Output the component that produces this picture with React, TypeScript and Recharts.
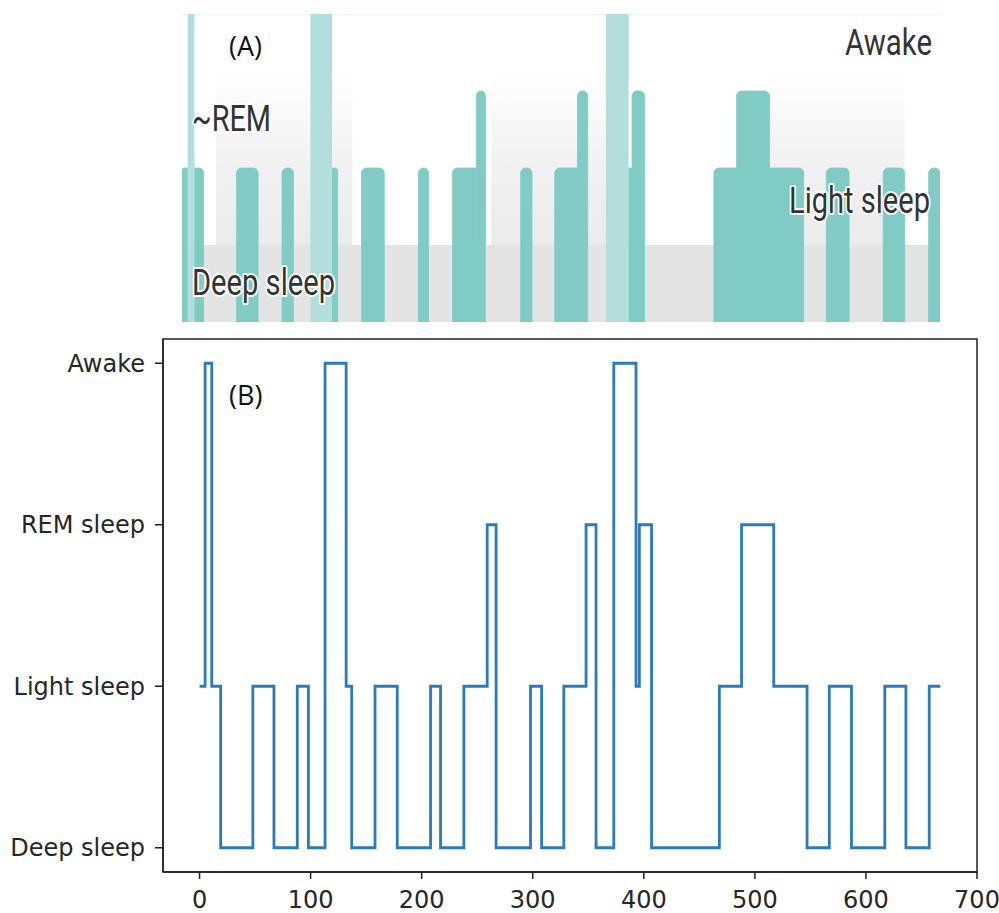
import React from 'react';
import {
  ComposedChart,
  Line,
  XAxis,
  YAxis,
  ReferenceArea,
  Rectangle,
} from 'recharts';

// ---- data ----
const stageLabels = ['Deep sleep', 'Light sleep', 'REM sleep', 'Awake'];
// segment start times (minutes) and stage index (0 deep, 1 light, 2 REM, 3 awake)
const segStart = [
  0, 5, 11, 19, 48, 67, 88, 98, 113, 132,
  137, 158, 178, 208, 217, 238, 259, 267, 298, 308,
  328, 348, 357, 373, 393, 396, 407, 468, 488, 517,
  547, 567, 587, 617, 636, 657,
];
const segStage = [
  1, 3, 1, 0, 1, 0, 1, 0, 3, 1,
  0, 1, 0, 1, 0, 1, 2, 0, 1, 0,
  1, 2, 0, 3, 1, 2, 0, 1, 2, 1,
  0, 1, 0, 1, 0, 1,
];
const recordEnd = 667;
const xTicks = [0, 100, 200, 300, 400, 500, 600, 700];
const yTicks = [0, 1, 2, 3];
const xDomain: [number, number] = [-32.9, 700];
const yDomain: [number, number] = [-0.15, 3.15];
// shaded "~REM" zones of the app screenshot (minutes)
const remZoneStart = [30, 272, 516];
const remZoneEnd = [150, 378, 636];

// ---- derived ----
const segments = segStart.map((s, i) => ({
  start: s,
  end: i + 1 < segStart.length ? segStart[i + 1] : recordEnd,
  stage: segStage[i],
}));
const linePoints = [
  ...segStart.map((s, i) => ({ t: s, stage: segStage[i] })),
  { t: recordEnd, stage: segStage[segStage.length - 1] },
];
// app levels: light 2, REM 3, awake 4 (deep band 0..1)
const appLevel = (st: number) => (st === 0 ? 0 : st + 1);

const TEAL = '#80cbc4';
const TEAL_LIGHT = '#b2dfdb';

const makeShape = (rl: number, rr: number) => (p: any) => (
  <Rectangle
    x={p.x}
    y={p.y}
    width={p.width}
    height={p.height}
    fill={p.fill}
    stroke={p.fill}
    strokeWidth={0.8}
    radius={[rl, rr, 0, 0]}
  />
);

const labelStyle: React.CSSProperties = {
  fontFamily: 'Roboto, "Noto Sans", sans-serif',
  fontSize: 36,
  fill: '#333333',
  stroke: '#ffffff',
  strokeWidth: 4,
  paintOrder: 'stroke',
  strokeLinejoin: 'round',
};

const panelLabelStyle: React.CSSProperties = {
  fontFamily: '"Open Sans", "Noto Sans", sans-serif',
  fontSize: 27,
  fill: '#111',
};

const tickFont = { fontFamily: '"DejaVu Sans", sans-serif', fontSize: 24, fill: '#262626' };

export default function App() {
  return (
    <div
      style={{
        position: 'absolute',
        left: 0,
        top: 0,
        width: 999,
        height: 913,
        background: '#ffffff',
        overflow: 'hidden',
      }}
    >
      {/* Panel A: app-style hypnogram */}
      <div style={{ position: 'absolute', left: 182, top: 14 }}>
        <ComposedChart
          width={758}
          height={308}
          data={linePoints}
          margin={{ top: 0, right: 0, bottom: 0, left: 0 }}
        >
          <defs>
            <linearGradient id="remZone" x1="0" y1="0" x2="0" y2="1">
              <stop offset="0%" stopColor="#ffffff" />
              <stop offset="55%" stopColor="#f1f1f1" />
              <stop offset="100%" stopColor="#ebebeb" />
            </linearGradient>
          </defs>
          <XAxis type="number" dataKey="t" domain={[0, recordEnd]} hide />
          <YAxis type="number" domain={[0, 4]} hide />
          <ReferenceArea
            x1={0}
            x2={recordEnd}
            y1={3.985}
            y2={4}
            fill="#e6f4f2"
            fillOpacity={1}
            stroke="none"
            ifOverflow="visible"
          />
          <ReferenceArea
            x1={0}
            x2={recordEnd}
            y1={0}
            y2={1}
            fill="#e4e4e4"
            fillOpacity={1}
            stroke="none"
          />
          {remZoneStart.map((s, i) => (
            <ReferenceArea
              key={'z' + i}
              x1={s}
              x2={remZoneEnd[i]}
              y1={1}
              y2={3.25}
              fill="url(#remZone)"
              fillOpacity={1}
              stroke="none"
            />
          ))}
          {segments.map((sg, i) => {
            if (sg.stage === 0 || sg.stage === 3) return null;
            const lv = appLevel(sg.stage);
            const prev = i > 0 ? appLevel(segments[i - 1].stage) : 0;
            const next = i + 1 < segments.length ? appLevel(segments[i + 1].stage) : 0;
            const rl = prev < lv ? 5 : 0;
            const rr = next < lv ? 5 : 0;
            return (
              <ReferenceArea
                key={'s' + i}
                x1={sg.start}
                x2={sg.end}
                y1={0}
                y2={lv}
                fill={TEAL}
                fillOpacity={1}
                stroke="none"
                shape={makeShape(rl, rr)}
              />
            );
          })}
          {segments.map((sg, i) =>
            sg.stage === 3 ? (
              <ReferenceArea
                key={'a' + i}
                x1={sg.start}
                x2={sg.end}
                y1={0}
                y2={4}
                fill={TEAL_LIGHT}
                fillOpacity={1}
                stroke="none"
              />
            ) : null
          )}
          <Line
            dataKey="stage"
            stroke="none"
            dot={false}
            isAnimationActive={false}
          />
        </ComposedChart>
      </div>

      {/* Panel B: matplotlib-style step plot */}
      <div style={{ position: 'absolute', left: 0, top: 330 }}>
        <ComposedChart
          width={999}
          height={583}
          data={linePoints}
          margin={{ top: 9, right: 22, bottom: 0, left: 0 }}
        >
          <XAxis
            type="number"
            dataKey="t"
            domain={xDomain}
            ticks={xTicks}
            interval={0}
            height={41}
            tickSize={7}
            tickMargin={12}
            axisLine={{ stroke: '#222', strokeWidth: 1.5 }}
            tickLine={{ stroke: '#222', strokeWidth: 1.5 }}
            tick={tickFont}
          />
          <YAxis
            type="number"
            domain={yDomain}
            ticks={yTicks}
            interval={0}
            width={163}
            tickSize={8}
            tickMargin={10}
            tickFormatter={(v: number) => stageLabels[v]}
            axisLine={{ stroke: '#222', strokeWidth: 1.5 }}
            tickLine={{ stroke: '#222', strokeWidth: 1.5 }}
            tick={tickFont}
          />
          <ReferenceArea
            x1={xDomain[0]}
            x2={xDomain[1]}
            y1={yDomain[0]}
            y2={yDomain[1]}
            fill="none"
            fillOpacity={0}
            stroke="#222"
            strokeWidth={1.5}
            strokeOpacity={1}
            ifOverflow="visible"
          />
          <Line
            type="stepAfter"
            dataKey="stage"
            stroke="#2b7bba"
            strokeWidth={2.8}
            dot={false}
            activeDot={false}
            isAnimationActive={false}
          />
        </ComposedChart>
      </div>

      {/* Text overlay */}
      <svg
        width={999}
        height={913}
        style={{ position: 'absolute', left: 0, top: 0, pointerEvents: 'none' }}
      >
        <text x={192} y={131} textLength={79} lengthAdjust="spacingAndGlyphs" style={labelStyle}>
          ~REM
        </text>
        <text x={845} y={55} textLength={87} lengthAdjust="spacingAndGlyphs" style={labelStyle}>
          Awake
        </text>
        <text x={789} y={213} textLength={141} lengthAdjust="spacingAndGlyphs" style={labelStyle}>
          Light sleep
        </text>
        <text x={192} y={295} textLength={143} lengthAdjust="spacingAndGlyphs" style={labelStyle}>
          Deep sleep
        </text>
        <text x={229} y={56} style={panelLabelStyle}>
          (A)
        </text>
        <text x={229} y={405} style={panelLabelStyle}>
          (B)
        </text>
      </svg>
    </div>
  );
}
